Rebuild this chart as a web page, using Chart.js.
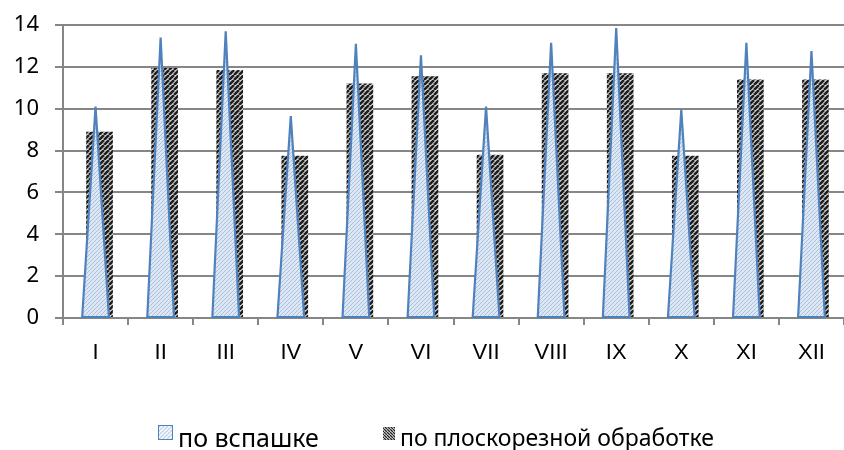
<!DOCTYPE html>
<html>
<head>
<meta charset="utf-8">
<script src="https://cdn.jsdelivr.net/npm/chart.js@4.4.1/dist/chart.umd.min.js"></script>
<style>
  body { margin: 0; background: #fff; }
  #wrap { width: 844px; height: 450px; }
</style>
</head>
<body>
<div id="wrap"><canvas id="grafica" width="844" height="450"></canvas></div>
<script>
// ДАННЫЕ
const meses = ["I", "II", "III", "IV", "V", "VI", "VII", "VIII", "IX", "X", "XI", "XII"];
const poVspashke = [10.1, 13.4, 13.7, 9.65, 13.1, 12.55, 10.1, 13.15, 13.85, 9.95, 13.15, 12.75];
const poPloskorez = [8.9, 11.95, 11.85, 7.75, 11.2, 11.55, 7.8, 11.7, 11.7, 7.75, 11.4, 11.4];
const nombres = ["по вспашке", "по плоскорезной обработке"];
const yTicks = [0, 2, 4, 6, 8, 10, 12, 14];

const FONT = "'Noto Sans', sans-serif";
const FONT_X = "'Liberation Sans', Arial, sans-serif";
const gris = "#868686";

// patrones
function patron(fondo, linea, paso, grosor, invertido) {
  let c = document.createElement("canvas");
  c.width = paso; c.height = paso;
  let g = c.getContext("2d");
  g.fillStyle = fondo;
  g.fillRect(0, 0, paso, paso);
  g.strokeStyle = linea;
  g.lineWidth = grosor;
  g.beginPath();
  for (let k = -1; k <= 1; k++) {
    if (invertido) {
      g.moveTo(k * paso, 0);
      g.lineTo(k * paso + paso, paso);
    } else {
      g.moveTo(k * paso, paso);
      g.lineTo(k * paso + paso, 0);
    }
  }
  g.stroke();
  return g.createPattern(c, "repeat");
}

let ctx = document.getElementById("grafica").getContext("2d");
const patAzul = patron("#dde7f3", "#a9c0de", 4, 1);
const patNegro = patron("#d4d4d4", "#1e1e1e", 5, 2.5);

// triángulos encima
const triangulos = {
  id: "triangulos",
  beforeDatasetDraw(chart, args) {
    if (args.index === 1) {
      chart.ctx.save();
      chart.ctx.translate(4, 0);
    }
  },
  afterDatasetDraw(chart, args) {
    if (args.index === 1) chart.ctx.restore();
  },
  afterDatasetsDraw(chart) {
    let c = chart.ctx;
    let meta = chart.getDatasetMeta(0);
    c.save();
    meta.data.forEach(el => {
      let w = el.width / 2;
      c.beginPath();
      c.moveTo(el.x - w, el.base);
      c.lineTo(el.x, el.y);
      c.lineTo(el.x + w, el.base);
      c.closePath();
      c.fillStyle = patAzul;
      c.fill();
      c.strokeStyle = "#4f81bd";
      c.lineWidth = 2.2;
      c.stroke();
    });
    c.restore();
  },
  afterDraw(chart) {
    // LEYENDA
    let c = chart.ctx;
    c.save();
    c.fillStyle = patron("#c5d6ec", "#ffffff", 4, 1.3);
    c.fillRect(158, 425, 15, 15);
    c.strokeStyle = "#4f81bd";
    c.lineWidth = 1;
    c.strokeRect(158.5, 425.5, 14, 14);
    c.fillStyle = patron("#ffffff", "#222222", 3, 1.4, true);
    c.fillRect(383, 427, 12, 13);
    c.fillStyle = "#000";
    c.textBaseline = "alphabetic";
    c.font = "25px " + FONT;
    c.fillText(nombres[0], 178, 447);
    c.font = "23px " + FONT;
    c.fillText(nombres[1], 400, 446);
    c.restore();
  }
};

new Chart(ctx, {
  type: "bar",
  data: {
    labels: meses,
    datasets: [
      { label: nombres[0], data: poVspashke, backgroundColor: "rgba(0,0,0,0)", borderWidth: 0 },
      { label: nombres[1], data: poPloskorez, backgroundColor: patNegro, borderWidth: 0 }
    ]
  },
  options: {
    responsive: false,
    animation: false,
    layout: { padding: { top: 25, right: 0, bottom: 72, left: 0 } },
    datasets: { bar: { grouped: false, categoryPercentage: 1, barPercentage: 0.41 } },
    plugins: { legend: { display: false }, tooltip: { enabled: false } },
    scales: {
      x: {
        afterFit(s) { s.height = 60; s.paddingLeft = 0; s.paddingRight = 0; },
        grid: { drawOnChartArea: false, drawTicks: true, tickLength: 7, color: gris, lineWidth: 2 },
        border: { color: gris, width: 2 },
        ticks: { color: "#000", font: { family: FONT_X, size: 22 }, padding: 15 }
      },
      y: {
        min: 0,
        max: 14,
        afterFit(s) { s.width = 63; s.paddingTop = 0; s.paddingBottom = 0; },
        afterBuildTicks(s) { s.ticks = yTicks.map(v => ({ value: v })); },
        grid: { color: gris, lineWidth: 2, tickLength: 8 },
        border: { color: gris, width: 2 },
        ticks: { color: "#000", font: { family: FONT, size: 22 }, padding: 16 }
      }
    }
  },
  plugins: [triangulos]
});
</script>
</body>
</html>
